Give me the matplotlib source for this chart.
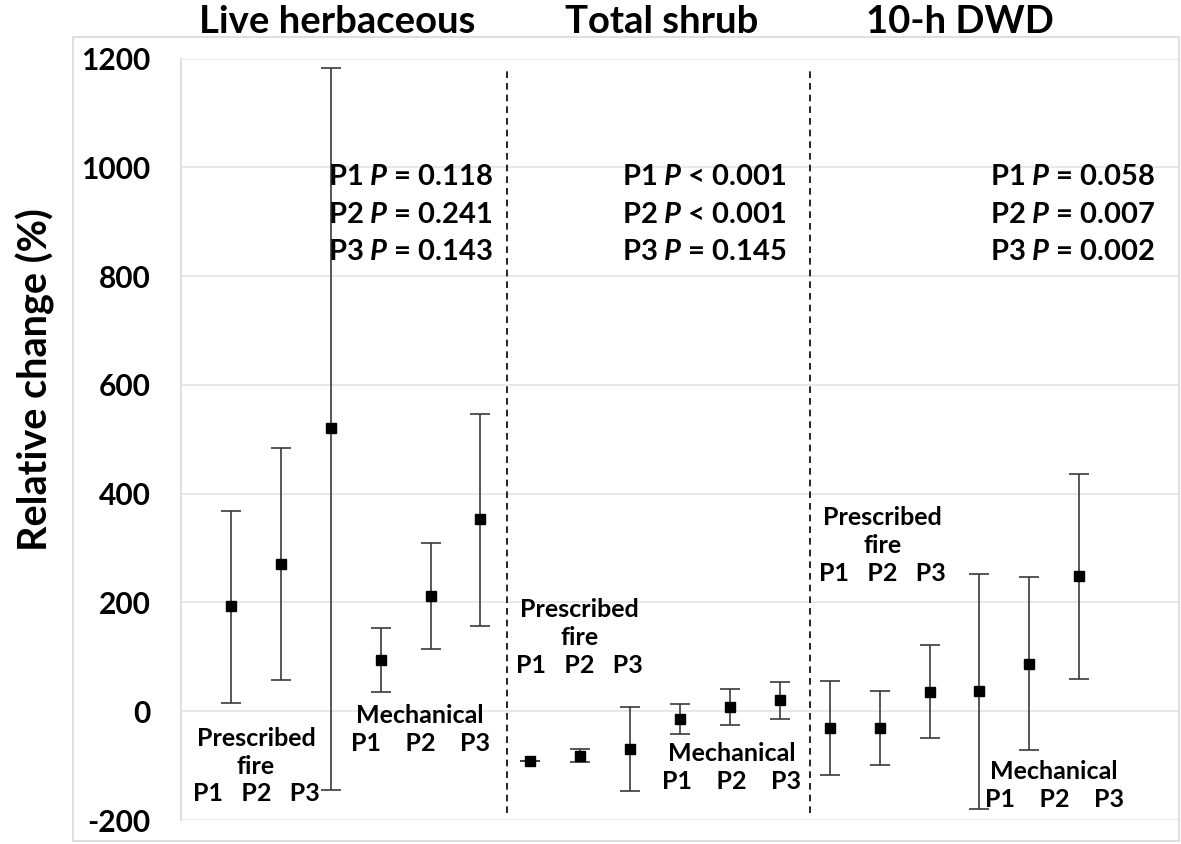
import numpy as np
import matplotlib
matplotlib.use("Agg")
import matplotlib.pyplot as plt
from matplotlib.patches import Rectangle

plt.rcParams['font.family'] = ['Lato', 'DejaVu Sans']
plt.rcParams['font.weight'] = 'bold'
plt.rcParams['mathtext.fontset'] = 'custom'
plt.rcParams['mathtext.rm'] = 'Lato:bold'
plt.rcParams['mathtext.it'] = 'Lato:italic:bold'

# data: 3 fuel types x (prescribed fire P1-P3, mechanical P1-P3)
panels = ["Live herbaceous", "Total shrub", "10-h DWD"]
mean_vals = [193, 271, 520, 94, 212, 353,
             -92, -82, -69, -14, 7, 20,
             -30, -30, 36, 37, 86, 248]
upper_vals = [369, 484, 1183, 154, 309, 547,
              -92, -70, 7, 13, 41, 54,
              55, 37, 122, 252, 246, 437]
lower_vals = [16, 57, -145, 35, 115, 157,
              -92, -94, -146, -42, -26, -15,
              -118, -98, -50, -179, -72, 59]
p_texts = [["P1 $\\it{P}$ = 0.118", "P2 $\\it{P}$ = 0.241", "P3 $\\it{P}$ = 0.143"],
           ["P1 $\\it{P}$ < 0.001", "P2 $\\it{P}$ < 0.001", "P3 $\\it{P}$ = 0.145"],
           ["P1 $\\it{P}$ = 0.058", "P2 $\\it{P}$ = 0.007", "P3 $\\it{P}$ = 0.002"]]
yticks = [-200, 0, 200, 400, 600, 800, 1000, 1200]

x = np.arange(1, 19)
mean_vals = np.array(mean_vals)
yerr = [mean_vals - np.array(lower_vals), np.array(upper_vals) - mean_vals]

fig = plt.figure(figsize=(11.81, 8.44), dpi=100)
ax = fig.add_axes([0.1533, 0.0284, 0.845, 0.9021])

# outer chart border
fig.patches.append(Rectangle((73 / 1181, 3 / 844), 1106 / 1181, 804 / 844,
                             transform=fig.transFigure, fill=False,
                             edgecolor='#d9d9d9', linewidth=1.2))

ax.errorbar(x, mean_vals, yerr=yerr, fmt='s', color='black', markersize=7.6,
            ecolor='#3a3a3a', elinewidth=1.2, capsize=7.2, capthick=1.2, zorder=3)

ax.set_xlim(0, 20)
ax.set_ylim(-200, 1200)
ax.set_yticks(yticks)
ax.set_yticklabels([str(t) for t in yticks], fontsize=21.5, fontweight='bold')
ax.tick_params(axis='y', length=0, pad=22)
ax.set_xticks([])
ax.grid(axis='y', color='#e4e4e4', linewidth=1.2)
ax.set_axisbelow(True)
for s in ['top', 'right', 'bottom']:
    ax.spines[s].set_visible(False)
ax.spines['left'].set_color('#d9d9d9')
ax.spines['left'].set_linewidth(1.2)

# separators between fuel types
ax.vlines([6.53, 12.6], -187, 1181, colors='black', linestyles=(0, (4, 3)), linewidth=1.2)

# p-values
p_right = [6.25, 12.14, 19.52]
p_y = [982, 913, 845]
for xr, lines in zip(p_right, p_texts):
    for yy, t in zip(p_y, lines):
        ax.text(xr, yy, t, ha='right', va='center', fontsize=21, fontweight='bold')

# treatment labels
grp_kw = dict(ha='center', va='center', fontsize=18, fontweight='bold', linespacing=1.25)
ax.text(1.5, -101, "Prescribed\nfire\nP1   P2   P3", **grp_kw)
ax.text(4.79, -33, "Mechanical\nP1    P2    P3", **grp_kw)
ax.text(7.98, 136, "Prescribed\nfire\nP1   P2   P3", **grp_kw)
ax.text(11.04, -103, "Mechanical\nP1    P2    P3", **grp_kw)
ax.text(14.06, 305, "Prescribed\nfire\nP1   P2   P3", **grp_kw)
ax.text(17.5, -136, "Mechanical\nP1    P2    P3", **grp_kw)

# panel titles
for cx, name in zip([337, 662, 960], panels):
    fig.text(cx / 1181, 1 - 22 / 844, name, ha='center', va='center',
             fontsize=27.5, fontweight='bold')

fig.text(35 / 1181, 1 - 380 / 844, "Relative change (%)", rotation=90,
         ha='center', va='center', fontsize=28.5, fontweight='bold')

fig.savefig("out.png", dpi=100)
